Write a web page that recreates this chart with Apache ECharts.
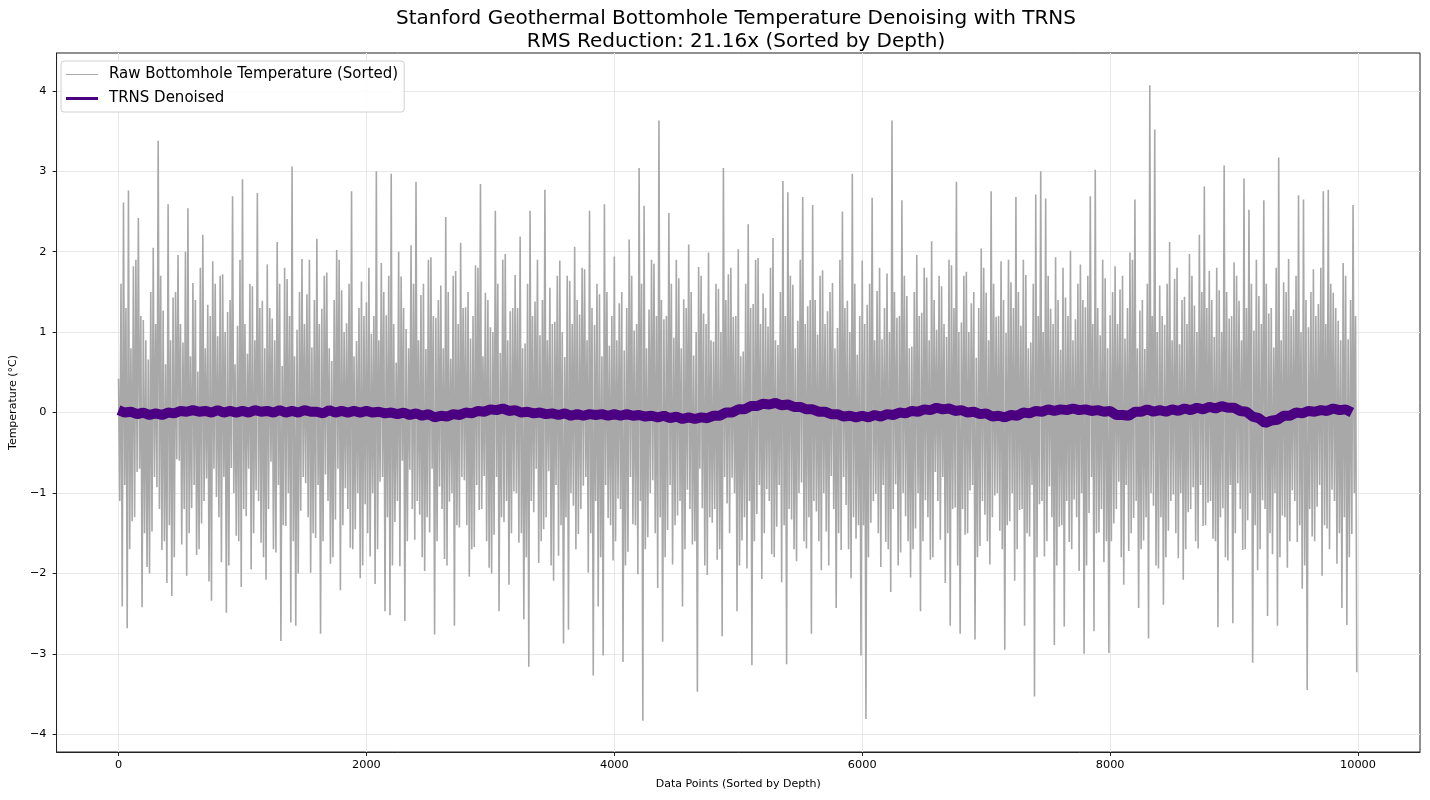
<!DOCTYPE html>
<html>
<head>
<meta charset="utf-8">
<script src="https://cdn.jsdelivr.net/npm/echarts@6/dist/echarts.min.js"></script>
<style>
html,body{margin:0;padding:0;background:#fff;}
#chart{width:1430px;height:800px;}
</style>
</head>
<body>
<div id="chart"></div>
<script>
// Raw bottomhole temperature anomalies, one sample every rawStep data points
const rawStep = 10;
const rawY = [
 0.42,-1.1,1.6,-2.41,2.61,-0.9,1.3,-2.68,2.76,-1.7,0.8,-1.35,1.82,-1.3,1.9,-0.74,2.42,-0.7,1.2,-2.42,1.15,-1.5,0.9,-1.92,0.66,-2.0,1.5,-1.48,2.05,-0.8,1.1,-0.93,3.38,-1.2,1.7,-1.71,1.27,-1.6,0.6,-2.12,
 2.59,-1.4,0.9,-2.28,1.43,-1.8,1.5,-0.58,1.96,-0.6,1.1,-1.64,0.87,-1.2,2.0,-2.03,2.54,-1.5,0.7,-1.19,1.61,-0.9,1.4,-1.77,0.51,-1.7,1.8,-1.38,2.21,-1.1,0.8,-0.82,1.34,-2.1,1.2,-2.34,1.88,-0.7,1.6,-1.05,
 0.95,-1.3,1.7,-1.86,1.72,-0.8,1.0,-2.49,1.25,-1.9,1.4,-0.69,2.69,-1.0,0.6,-1.53,1.08,-1.6,1.9,-2.17,2.90,-1.2,1.1,-1.29,0.73,-0.7,1.6,-1.95,1.57,-1.5,0.9,-0.97,2.73,-1.1,1.3,-1.62,1.39,-1.8,0.8,-2.08,
 1.84,-1.2,1.3,-0.61,1.17,-1.7,0.9,-1.74,2.12,-0.9,1.6,-2.84,0.58,-1.4,1.8,-1.41,1.66,-1.0,1.2,-2.61,3.06,-1.6,0.7,-2.65,1.03,-2.0,1.5,-1.22,1.91,-0.8,1.1,-0.88,1.47,-1.3,1.9,-1.99,0.81,-1.5,1.4,-1.56,
 2.16,-0.9,1.1,-2.75,1.29,-1.6,1.7,-0.77,1.74,-1.1,0.8,-1.88,0.64,-1.8,1.4,-1.33,2.02,-0.7,1.9,-2.21,1.52,-1.4,1.0,-0.94,1.11,-1.2,1.6,-1.68,2.75,-1.7,0.7,-1.45,0.89,-1.0,1.3,-2.06,1.63,-1.9,1.2,-1.14,
 1.37,-1.5,1.8,-1.79,0.98,-1.0,1.2,-2.13,3.00,-1.7,0.9,-0.86,1.86,-0.8,1.5,-2.47,1.21,-1.3,1.7,-2.52,2.97,-1.9,1.1,-1.36,0.62,-1.1,2.0,-1.91,1.69,-0.6,1.3,-2.59,1.04,-1.6,0.8,-0.71,2.08,-1.2,1.6,-1.58,
 2.87,-1.1,0.9,-1.27,1.46,-1.8,1.6,-1.97,0.79,-1.3,1.9,-1.49,1.93,-0.7,1.2,-2.76,1.18,-1.6,1.4,-0.92,1.58,-1.2,0.8,-1.82,2.43,-1.9,1.5,-1.11,0.67,-1.0,1.7,-2.65,1.76,-1.4,1.1,-1.43,2.11,-0.8,1.3,-0.84,
 1.31,-1.4,1.5,-2.04,0.92,-1.7,1.2,-1.67,1.83,-0.9,1.8,-1.21,2.84,-1.2,0.7,-0.79,1.49,-1.6,1.4,-1.93,1.06,-2.0,1.0,-1.52,2.51,-0.8,1.6,-2.47,0.74,-1.3,1.9,-1.36,1.97,-1.1,0.9,-2.14,1.26,-1.5,1.3,-0.98,
 1.71,-1.0,1.3,-1.62,2.19,-1.5,0.8,-2.57,0.86,-1.8,1.6,-3.16,2.51,-1.1,1.2,-1.24,1.38,-0.7,1.9,-1.87,0.96,-1.6,1.4,-1.45,2.77,-1.3,0.9,-0.73,1.55,-1.9,1.1,-2.09,1.13,-0.9,1.7,-1.78,1.89,-1.4,1.0,-2.87,
 0.69,-1.3,1.7,-2.70,1.64,-1.0,1.1,-1.16,2.06,-1.7,1.4,-1.51,1.22,-1.2,1.8,-0.91,1.78,-0.8,0.9,-1.99,2.51,-1.5,1.3,-3.27,1.09,-1.1,1.6,-2.41,1.47,-1.8,0.7,-3.02,2.59,-0.9,1.5,-1.31,0.83,-1.4,1.2,-1.84,
 1.94,-1.6,0.9,-1.07,1.36,-1.2,1.5,-3.10,0.77,-1.9,1.3,-1.73,2.15,-0.8,1.7,-1.39,1.02,-1.4,1.1,-2.01,3.04,-1.1,1.6,-3.83,2.57,-1.7,0.8,-1.55,1.28,-1.0,1.9,-0.84,1.85,-1.5,1.2,-2.18,3.63,-1.3,1.4,-2.85,
 1.16,-1.8,1.2,-1.46,2.48,-0.9,1.6,-1.89,0.93,-1.4,1.9,-1.28,1.67,-1.1,0.8,-2.41,1.41,-1.7,1.3,-0.96,2.09,-1.2,1.5,-1.64,0.71,-1.6,1.0,-3.47,1.81,-0.7,1.7,-1.19,1.23,-1.9,1.1,-2.02,1.99,-1.3,0.9,-1.37,
 0.88,-1.2,1.6,-1.83,1.54,-1.7,1.0,-2.78,3.04,-0.8,1.4,-1.13,1.72,-1.5,1.8,-0.81,1.19,-1.0,1.2,-2.47,2.03,-1.9,0.7,-1.59,0.76,-1.3,1.6,-1.94,2.34,-1.1,1.3,-3.14,1.35,-1.6,1.9,-1.26,1.92,-0.9,1.1,-2.07,
 1.48,-1.5,1.3,-0.95,1.07,-1.1,1.8,-1.76,2.17,-1.8,0.9,-1.42,0.84,-0.9,1.5,-2.11,2.88,-1.4,1.2,-3.13,2.74,-1.2,1.7,-1.33,1.59,-1.7,0.8,-1.85,1.14,-1.0,1.9,-0.87,2.68,-1.6,1.1,-1.69,1.32,-1.3,1.4,-2.75,
 2.58,-1.1,1.4,-1.23,0.97,-1.6,1.7,-1.96,1.77,-1.0,1.1,-1.48,1.26,-1.9,1.5,-0.79,1.61,-1.2,0.8,-2.43,1.05,-1.5,1.9,-1.71,2.50,-0.8,1.3,-1.15,1.39,-1.7,1.0,-2.06,2.97,-1.3,1.6,-1.57,0.72,-1.4,1.2,-3.02,
 1.89,-1.4,1.1,-3.81,1.34,-1.8,1.6,-1.37,2.67,-1.1,0.9,-1.01,1.51,-1.5,1.8,-1.92,0.91,-0.9,1.3,-1.61,1.73,-1.7,1.0,-2.23,3.63,-1.2,1.5,-0.89,1.18,-1.9,1.2,-1.74,2.64,-1.0,1.7,-1.29,1.45,-1.6,0.8,-2.05,
 0.82,-1.7,1.5,-1.44,1.96,-1.0,1.2,-2.47,1.24,-1.6,1.8,-1.09,1.68,-1.3,0.9,-1.83,2.13,-1.8,1.4,-0.74,1.03,-1.1,1.7,-1.58,1.57,-0.8,1.1,-2.12,0.94,-1.5,1.9,-2.65,1.83,-1.2,1.3,-1.18,2.87,-1.9,1.0,-2.75,
 1.12,-1.2,1.7,-1.52,1.75,-1.5,1.0,-0.97,1.36,-0.9,1.5,-2.82,0.68,-1.8,1.3,-1.66,2.04,-1.1,1.8,-1.27,1.49,-1.6,0.9,-1.89,2.75,-1.3,1.6,-1.03,1.19,-1.0,1.2,-1.47,1.88,-1.7,1.4,-2.95,0.99,-1.4,1.9,-1.35,
 1.62,-1.0,1.3,-2.09,2.68,-1.7,1.5,-1.21,1.08,-1.2,1.9,-2.65,1.71,-1.5,0.8,-1.54,0.87,-0.9,1.6,-3.53,2.71,-1.8,1.2,-1.14,3.00,-1.1,1.0,-1.79,2.66,-1.6,1.7,-0.92,1.29,-1.3,1.1,-2.89,1.93,-1.9,1.4,-1.42,
 0.78,-1.4,1.8,-2.66,1.43,-1.1,1.2,-1.61,2.01,-1.7,0.9,-1.08,1.16,-1.3,1.6,-1.97,1.84,-1.0,1.4,-3.00,1.31,-1.9,1.7,-1.25,2.69,-0.8,1.1,-2.72,3.02,-1.5,1.3,-1.49,0.96,-1.2,1.9,-1.86,1.67,-1.6,0.8,-2.99,
 1.21,-1.6,1.5,-1.38,1.82,-1.2,1.1,-0.86,1.53,-1.8,1.7,-2.14,0.92,-0.9,1.3,-1.72,1.99,-1.5,1.9,-1.31,2.65,-1.1,0.8,-2.43,1.27,-1.7,1.4,-1.59,0.79,-1.3,1.6,-2.81,4.07,-1.0,1.2,-1.16,3.52,-1.9,1.0,-1.94,
 1.58,-1.3,1.2,-2.39,1.09,-1.8,1.6,-1.47,2.12,-1.1,0.9,-1.02,1.66,-1.5,1.8,-1.81,0.85,-1.0,1.4,-2.08,1.44,-1.7,1.1,-1.24,1.97,-1.2,1.7,-0.93,1.33,-1.6,1.0,-1.69,2.21,-0.9,1.5,-1.41,2.81,-1.4,1.3,-1.12,
 1.76,-1.1,1.4,-1.57,0.94,-1.6,1.8,-2.67,1.52,-1.3,1.0,-1.19,3.07,-1.8,1.5,-1.84,1.17,-0.9,1.2,-2.62,1.87,-1.5,1.7,-0.88,1.39,-1.2,0.9,-1.71,2.91,-1.7,1.3,-1.34,2.52,-1.0,1.6,-3.11,1.02,-1.4,1.9,-1.96,
 1.45,-1.7,1.1,-1.09,2.64,-1.2,1.6,-2.53,1.23,-1.5,1.3,-1.76,0.81,-1.0,1.8,-2.65,3.17,-1.8,0.9,-1.28,1.62,-1.3,1.5,-1.93,1.91,-1.6,1.2,-0.97,1.28,-1.1,1.7,-1.61,2.70,-1.4,1.0,-2.19,2.65,-1.9,1.4,-3.45,
 1.06,-1.2,1.5,-1.54,1.78,-1.6,1.2,-1.17,1.35,-0.9,1.8,-2.03,2.75,-1.4,1.1,-1.44,2.77,-1.7,1.6,-0.96,1.49,-1.1,1.3,-1.88,1.14,-1.5,0.9,-2.43,1.86,-1.3,1.7,-2.64,0.91,-1.8,1.4,-1.51,2.58,-1.0,1.2,-3.23
];

// TRNS denoised signal, one sample every denStep data points
const denStep = 50;
const denY = [
 0.03,0.00,0.01,-0.02,0.00,-0.03,-0.01,-0.03,0.00,-0.01,0.02,0.01,0.03,0.01,0.02,0.00,0.03,0.00,0.02,0.00,
 0.02,0.00,0.03,0.01,0.02,0.00,0.03,0.00,0.02,0.00,0.03,0.01,0.01,-0.01,0.03,0.00,0.02,0.00,0.02,0.00,
 0.02,0.00,0.01,-0.01,0.00,-0.02,0.00,-0.03,-0.01,-0.04,-0.02,-0.06,-0.04,-0.05,-0.02,-0.03,0.00,-0.01,0.02,0.01,
 0.04,0.03,0.05,0.02,0.03,0.00,0.01,-0.01,0.00,-0.02,-0.01,-0.03,-0.01,-0.04,-0.02,-0.04,-0.02,-0.03,-0.02,-0.04,
 -0.02,-0.04,-0.02,-0.04,-0.03,-0.05,-0.04,-0.06,-0.04,-0.07,-0.05,-0.08,-0.06,-0.08,-0.06,-0.07,-0.04,-0.04,0.00,0.00,
 0.04,0.04,0.08,0.08,0.11,0.10,0.12,0.09,0.10,0.07,0.07,0.04,0.04,0.01,0.01,-0.02,-0.02,-0.05,-0.04,-0.06,
 -0.04,-0.06,-0.03,-0.05,-0.02,-0.03,0.00,-0.01,0.02,0.01,0.04,0.03,0.06,0.04,0.05,0.02,0.03,0.00,0.01,-0.02,
 -0.01,-0.05,-0.04,-0.06,-0.03,-0.04,0.00,-0.01,0.02,0.01,0.04,0.02,0.04,0.03,0.05,0.03,0.04,0.02,0.03,0.01,
 0.02,-0.03,-0.03,-0.04,0.01,0.01,0.04,0.01,0.03,0.01,0.04,0.02,0.05,0.03,0.06,0.04,0.07,0.05,0.08,0.06,
 0.06,0.02,0.01,-0.05,-0.07,-0.13,-0.10,-0.09,-0.04,-0.04,0.00,-0.01,0.02,0.01,0.03,0.02,0.05,0.03,0.04,0.00
];

const xTicks = [0, 2000, 4000, 6000, 8000, 10000];
const yTicks = [-4, -3, -2, -1, 0, 1, 2, 3, 4];

const FONT = 'DejaVu Sans';
const rawData = rawY.map((v, i) => [i * rawStep, v]);
const denData = denY.map((v, i) => [i * denStep, v]);

const chart = echarts.init(document.getElementById('chart'));
chart.setOption({
  animation: false,
  backgroundColor: '#fff',
  title: {
    text: 'Stanford Geothermal Bottomhole Temperature Denoising with TRNS\nRMS Reduction: 21.16x (Sorted by Depth)',
    left: 736,
    top: 7,
    textAlign: 'center',
    padding: 0,
    textStyle: { fontFamily: FONT, fontSize: 20, fontWeight: 'normal', color: '#000', lineHeight: 23 }
  },
  grid: {
    left: 52, right: 10, top: 53, bottom: 48,
    show: true, borderColor: '#222', borderWidth: 1, backgroundColor: 'transparent'
  },
  legend: {
    orient: 'vertical',
    left: 61, top: 61,
    itemWidth: 32, itemHeight: 14, itemGap: 9,
    padding: [6, 6, 6, 5],
    backgroundColor: 'rgba(255,255,255,0.85)',
    borderColor: '#d0d0d0', borderWidth: 1, borderRadius: 3,
    textStyle: { fontFamily: FONT, fontSize: 15, color: '#000', padding: [0, 0, 0, 6] },
    data: [
      { name: 'Raw Bottomhole Temperature (Sorted)', icon: 'path://M0,0H32V1H0Z' },
      { name: 'TRNS Denoised', icon: 'path://M0,0H32V3H0Z' }
    ]
  },
  xAxis: {
    type: 'value',
    min: -500, max: 10500,
    name: 'Data Points (Sorted by Depth)',
    nameLocation: 'middle', nameGap: 27,
    nameTextStyle: { fontFamily: FONT, fontSize: 11, color: '#000' },
    axisLine: { show: true, onZero: false, lineStyle: { color: '#222', width: 1 } },
    axisTick: { show: true, inside: false, length: 4, lineStyle: { color: '#222' }, customValues: xTicks },
    axisLabel: { fontFamily: FONT, fontSize: 11.3, color: '#000', margin: 8, customValues: xTicks,
      formatter: v => String(v) },
    splitLine: { show: true, lineStyle: { color: '#e8e8e8', width: 1 } }
  },
  yAxis: {
    type: 'value',
    min: -4.22, max: 4.47,
    name: 'Temperature (°C)',
    nameLocation: 'middle', nameGap: 37,
    nameTextStyle: { fontFamily: FONT, fontSize: 11, color: '#000' },
    axisLine: { show: true, onZero: false, lineStyle: { color: '#222', width: 1 } },
    axisTick: { show: true, inside: false, length: 4, lineStyle: { color: '#222' }, customValues: yTicks },
    axisLabel: { fontFamily: FONT, fontSize: 11.3, color: '#000', margin: 10, customValues: yTicks,
      formatter: v => (v < 0 ? '\u2212' + Math.abs(v) : String(v)) },
    splitLine: { show: true, lineStyle: { color: '#e8e8e8', width: 1 } }
  },
  series: [
    {
      name: 'Raw Bottomhole Temperature (Sorted)',
      type: 'line',
      data: rawData,
      symbol: 'none',
      showSymbol: false,
      sampling: 'none',
      lineStyle: { color: '#a8a8a8', width: 1.6, join: 'bevel' },
      itemStyle: { color: '#a8a8a8' },
      z: 2
    },
    {
      name: 'TRNS Denoised',
      type: 'line',
      data: denData,
      symbol: 'none',
      showSymbol: false,
      lineStyle: { color: '#4b0082', width: 10 },
      itemStyle: { color: '#4b0082' },
      z: 3
    }
  ]
});
</script>
</body>
</html>
